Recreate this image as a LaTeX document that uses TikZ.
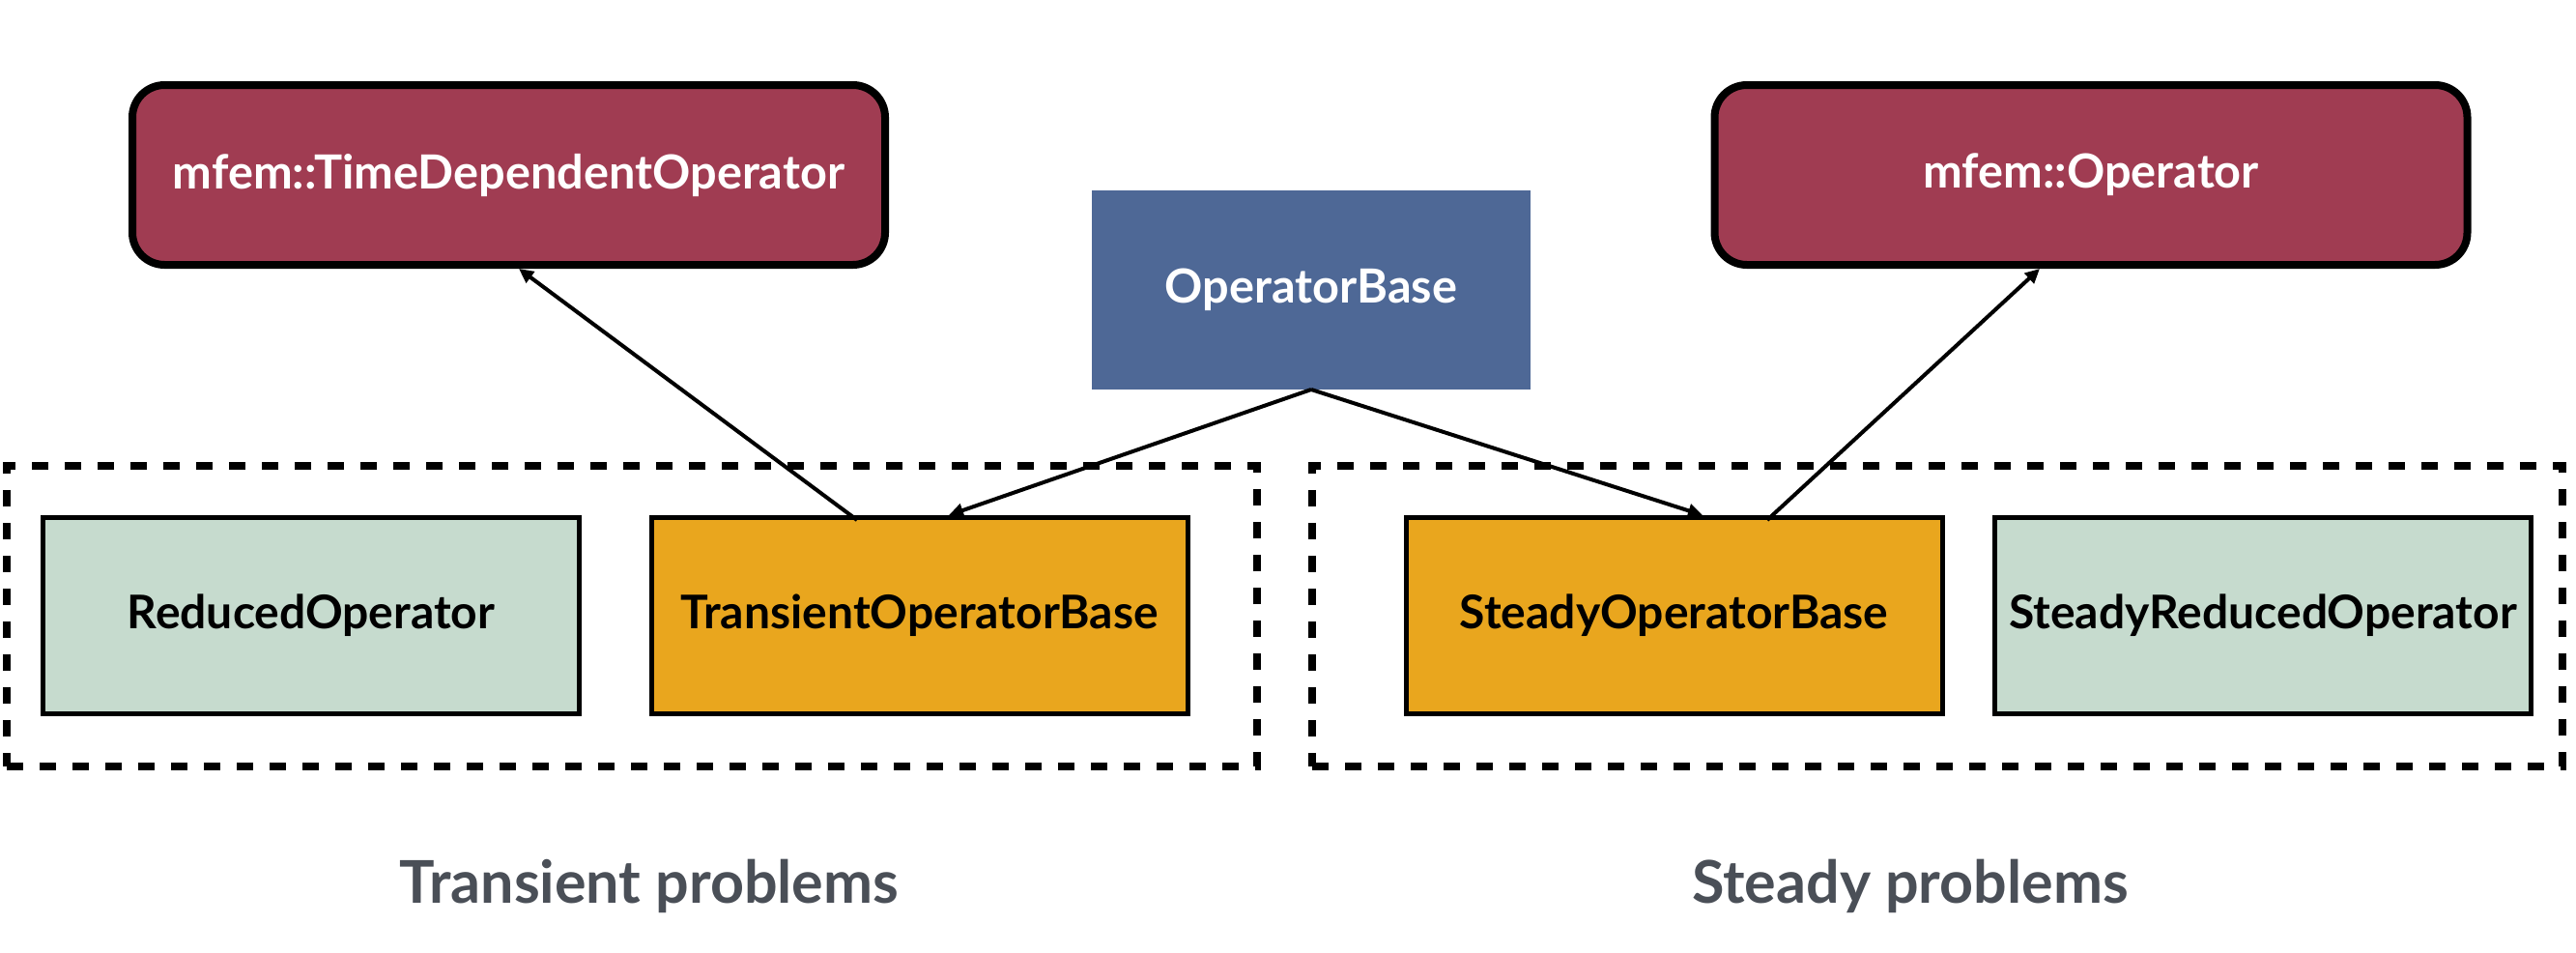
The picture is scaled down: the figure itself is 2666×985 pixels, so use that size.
\documentclass[tikz,border=0pt]{standalone}
\usepackage{fontspec}
\setmainfont{Lato}
\usetikzlibrary{arrows.meta}
\definecolor{redbox}{HTML}{A03C52}
\definecolor{bluebox}{HTML}{4E6896}
\definecolor{orangebox}{HTML}{E9A61E}
\definecolor{greenbox}{HTML}{C6DBCE}
\definecolor{graytext}{HTML}{4A4F57}
\tikzset{
  mfembox/.style={draw=black, line width=2.4pt, rounded corners=10pt, fill=redbox,
    text=white, font=\bfseries\fontsize{14.6}{16}\selectfont,
    minimum width=779*0.3pt, minimum height=186*0.3pt, inner sep=0pt, outer sep=0pt},
  basebox/.style={fill=bluebox, text=white, font=\bfseries\fontsize{14.6}{16}\selectfont,
    minimum width=454*0.3pt, minimum height=206*0.3pt, inner sep=0pt, outer sep=0pt},
  classbox/.style={draw=black, line width=1.5pt,
    font=\bfseries\fontsize{14.4}{16}\selectfont,
    minimum width=555*0.3pt, minimum height=203*0.3pt, inner sep=0pt, outer sep=0pt},
  orange/.style={classbox, fill=orangebox},
  green/.style={classbox, fill=greenbox},
  groupbox/.style={draw=black, line width=2.4pt, dash pattern=on 5.1pt off 5.1pt,
    minimum width=1294*0.3pt, minimum height=311*0.3pt, inner sep=0pt, outer sep=0pt},
  grouplabel/.style={text=graytext, font=\bfseries\fontsize{18.3}{20}\selectfont, anchor=base},
  inherit/.style={draw=black, line width=1.2pt, -{Triangle[length=4.5pt, width=4.2pt]}}
}
\begin{document}
\begin{tikzpicture}[x=0.3pt, y=-0.3pt]
\useasboundingbox (0,0) rectangle (2666,985);
% groups
\node[groupbox] (grpT) at (654,637.5) {};
\node[groupbox] (grpS) at (2005,637.5) {};
% top boxes
\node[mfembox] (tdo) at (526.5,181) {mfem::TimeDependentOperator};
\node[mfembox] (mop) at (2164,181) {mfem::Operator};
\node[basebox] (ob) at (1357,300) {OperatorBase};
% class boxes
\node[green] (red) at (322,637) {ReducedOperator};
\node[orange] (tob) at (951.5,637) {TransientOperatorBase};
\node[orange] (sob) at (1732.5,637) {SteadyOperatorBase};
\node[green] (sro) at (2342,637) {SteadyReducedOperator};
% labels
\node[grouplabel] (lt) at (672,934) {Transient problems};
\node[grouplabel] (ls) at (1977,934) {Steady problems};
% connectors
\draw[inherit] ([xshift=-64.5*0.3pt,yshift=-0.75pt]tob.north) -- ([xshift=10.5*0.3pt,yshift=-1.2pt]tdo.south);
\draw[inherit] (ob.south) -- ([xshift=30.5*0.3pt,yshift=0.75pt]tob.north);
\draw[inherit] (ob.south) -- ([xshift=29.5*0.3pt,yshift=0.75pt]sob.north);
\draw[inherit] ([xshift=96.5*0.3pt,yshift=-0.75pt]sob.north) -- ([xshift=-53*0.3pt,yshift=-1.2pt]mop.south);
\end{tikzpicture}
\end{document}
